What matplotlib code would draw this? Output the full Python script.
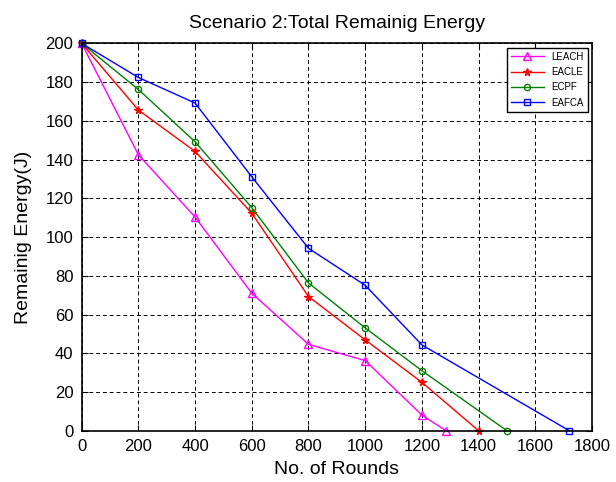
import matplotlib.pyplot as plt

plt.rcParams['font.family'] = ['Liberation Sans', 'DejaVu Sans']

# data
rounds = [0, 200, 400, 600, 800, 1000, 1200]
leach_x = rounds + [1285]
leach_y = [200, 142.5, 110.3, 71.0, 44.6, 36.2, 8.1, 0]
eacle_x = rounds + [1400]
eacle_y = [200, 165.6, 144.2, 112.3, 69.3, 46.9, 25.0, 0]
ecpf_x = rounds + [1500]
ecpf_y = [200, 176.2, 149.2, 115.2, 76.3, 53.1, 31.0, 0]
eafca_x = rounds + [1720]
eafca_y = [200, 182.4, 169.2, 131.1, 94.2, 75.1, 44.3, 0]

fig = plt.figure(figsize=(6.16, 4.82), dpi=100)
ax = fig.add_axes([0.1326, 0.1064, 0.8284, 0.8036])

ax.plot(leach_x, leach_y, color='magenta', marker='^', mfc='none', ms=5.5, lw=1,
        label='LEACH', clip_on=False)
ax.plot(eacle_x, eacle_y, color='red', marker='*', ms=5.5, lw=1,
        label='EACLE', clip_on=False)
ax.plot(ecpf_x, ecpf_y, color='green', marker='o', mfc='none', ms=4.5, lw=1,
        label='ECPF', clip_on=False)
ax.plot(eafca_x, eafca_y, color='blue', marker='s', mfc='none', ms=4.5, lw=1,
        label='EAFCA', clip_on=False)

ax.set_xlim(0, 1800)
ax.set_ylim(0, 200)
ax.set_xticks(range(0, 1801, 200))
ax.set_yticks(range(0, 201, 20))
ax.grid(True, color='black', linestyle=(0, (4, 3)), linewidth=0.7)
ax.tick_params(direction='in', top=True, right=True, labelsize=12, length=4, pad=6)
for s in ax.spines.values():
    s.set_linewidth(1.2)

ax.set_title('Scenario 2:Total Remainig Energy', fontsize=14, pad=11)
ax.set_xlabel('No. of Rounds', fontsize=14, labelpad=5)
ax.set_ylabel('Remainig Energy(J)', fontsize=14, labelpad=10)

leg = ax.legend(loc='upper right', fontsize=7, fancybox=False, framealpha=1,
                edgecolor='black', handlelength=3.4, borderaxespad=0.45,
                labelspacing=0.55)
leg.get_frame().set_linewidth(1.0)

fig.savefig('out.png', dpi=100)
